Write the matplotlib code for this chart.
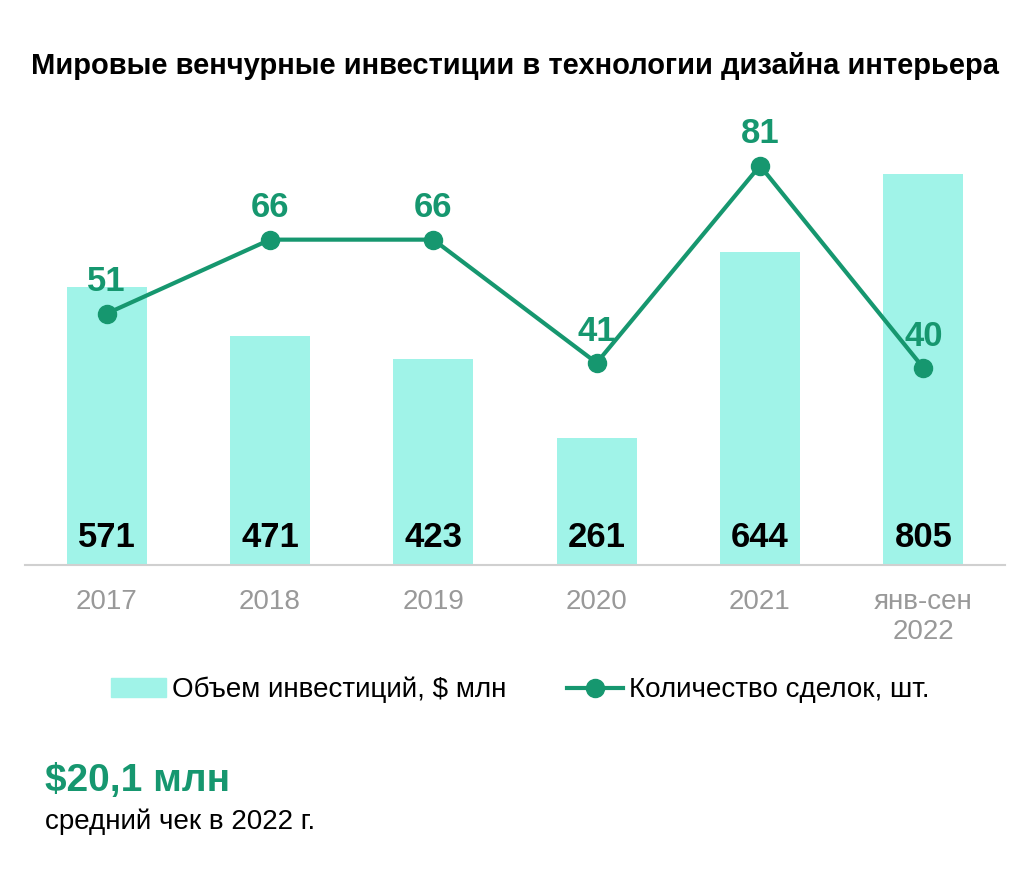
import matplotlib
matplotlib.use("Agg")
import matplotlib.pyplot as plt
from matplotlib.patches import Patch
from matplotlib.lines import Line2D

categories = ["2017", "2018", "2019", "2020", "2021", "янв-сен\n2022"]
volume = [571, 471, 423, 261, 644, 805]
deals = [51, 66, 66, 41, 81, 40]

BAR_C = "#a0f3e8"
LINE_C = "#16976f"
plt.rcParams['font.family'] = ['Liberation Sans', 'DejaVu Sans']

fig = plt.figure(figsize=(10.2, 8.71), dpi=100)
ax = fig.add_axes([25/1020, (871-565)/871, 980/1020, 455/871])
x = list(range(len(categories)))
ax.bar(x, volume, width=0.49, color=BAR_C, zorder=1)
ax.set_xlim(-0.5, 5.5)
ax.set_ylim(0, 936)
for xi, v in zip(x, volume):
    ax.text(xi, 56, str(v), ha='center', va='center', fontsize=25, fontweight='bold', color='black')
for s in ['top', 'right', 'left']:
    ax.spines[s].set_visible(False)
ax.spines['bottom'].set_color('#d0d0d0')
ax.spines['bottom'].set_linewidth(1.5)
ax.set_yticks([])
ax.set_xticks(x)
ax.set_xticklabels(categories, fontsize=20, color='#999999', linespacing=1.2)
ax.tick_params(axis='x', length=0, pad=17)

ax2 = ax.twinx()
ax2.set_ylim(0, 92.3)
ax2.plot(x, deals, color=LINE_C, lw=3, marker='o', ms=13, zorder=3)
for xi, d in zip(x, deals):
    ax2.annotate(str(d), (xi, d), xytext=(0, 11), textcoords='offset points', ha='center', va='bottom',
                 fontsize=25, fontweight='bold', color=LINE_C)
ax2.axis('off')

handles = [Patch(color=BAR_C), Line2D([0], [0], color=LINE_C, lw=3, marker='o', ms=13)]
fig.legend(handles, ["Объем инвестиций, $ млн", "Количество сделок, шт."], loc='center',
           bbox_to_anchor=(520/1020, 1-690/871), ncol=2, frameon=False, fontsize=20,
           handlelength=2.0, handletextpad=0.2, columnspacing=2.2)

fig.text(515/1020, 1-66/871, "Мировые венчурные инвестиции в технологии дизайна интерьера",
         ha='center', va='center', fontsize=21, fontweight='bold')
fig.text(45/1020, 1-781/871, "$20,1 млн", ha='left', va='center', fontsize=28, fontweight='bold', color=LINE_C)
fig.text(45/1020, 1-822/871, "средний чек в 2022 г.", ha='left', va='center', fontsize=20, color='black')

fig.savefig("out.png", dpi=100)
